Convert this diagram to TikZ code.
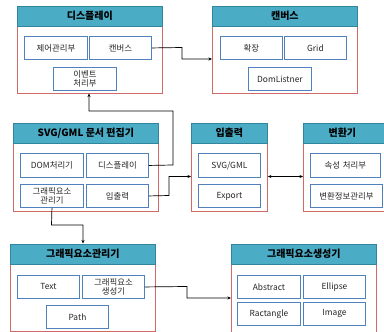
\documentclass[tikz,border=0pt]{standalone}
\usepackage{fontspec}
\setmainfont{Noto Sans CJK KR}
\usetikzlibrary{arrows.meta}
\definecolor{titlefill}{HTML}{4BACC6}
\definecolor{titledraw}{HTML}{31859C}
\definecolor{panelred}{HTML}{D06A68}
\definecolor{boxblue}{HTML}{4F81BD}
\definecolor{txt}{HTML}{262626}
\begin{document}
\begin{tikzpicture}[x=1pt,y=-1pt,
  panel/.style={draw=panelred,line width=0.9pt,fill=white,anchor=north west,inner sep=0pt},
  ttl/.style={draw=titledraw,line width=0.7pt,fill=titlefill,anchor=north west,inner sep=0pt,font=\fontsize{10}{11}\selectfont\bfseries},
  bx/.style={draw=boxblue,line width=0.9pt,fill=white,anchor=north west,inner sep=0pt,align=center,text=txt,font=\fontsize{8.4}{9.6}\selectfont},
  conn/.style={line width=0.7pt,black},
  arr/.style={conn,-{Stealth[length=3.5pt,width=3pt]}}
]
\useasboundingbox (0,0) rectangle (384,332);
\newcommand{\mkpanel}[6]{%
  \node[panel,minimum width=#4-#2,minimum height=#5-#3] (#1) at (#2,#3) {};
  \node[ttl,minimum width=#4-#2,minimum height=19.5] (#1t) at (#2,#3) {#6};}
\newcommand{\mkbox}[6]{%
  \node[bx,minimum width=#4-#2,minimum height=#5-#3,text width=#4-#2] (#1) at (#2,#3) {#6};}

% Panel 1 : display
\mkpanel{p1}{17}{6}{162}{93}{디스플레이}
\mkbox{ctrl}{24}{36}{87}{59}{제어관리부}
\mkbox{canv}{89}{36}{151}{59}{캔버스}
\mkbox{evt}{53}{67}{116}{90}{이벤트\\처리부}

% Panel 2 : canvas
\mkpanel{p2}{212}{6}{357}{93}{캔버스}
\mkbox{ext}{220}{36}{282}{59}{확장}
\mkbox{grid}{284}{36}{346}{59}{Grid}
\mkbox{dom}{248}{67}{311}{90}{DomListner}

% Panel 3 : editor
\mkpanel{p3}{13}{123}{158}{211}{SVG/GML 문서 편집기}
\mkbox{domp}{20}{153}{83}{177}{DOM처리기}
\mkbox{disp}{86}{153}{148}{177}{디스플레이}
\mkbox{gman}{20}{184}{83}{207}{그래픽요소\\관리기}
\mkbox{io}{86}{184}{148}{207}{입출력}

% Panel 4 : io
\mkpanel{p4}{191}{123}{267}{211}{입출력}
\mkbox{svg}{198}{153}{260}{177}{SVG/GML}
\mkbox{exp}{198}{184}{260}{207}{Export}

% Panel 5 : converter
\mkpanel{p5}{303}{123}{392}{211}{\hspace*{-11pt}변환기}
\mkbox{attr}{310}{153}{380}{177}{속성 처리부}
\mkbox{conv}{310}{184}{382}{207}{변환정보관리부}

% Panel 6 : graphic element manager
\mkpanel{p6}{10}{244}{155}{331}{그래픽요소관리기}
\mkbox{text}{17}{275}{79}{298}{Text}
\mkbox{gen}{82}{275}{144}{298}{그래픽요소\\생성기}
\mkbox{path}{46}{305}{108}{328}{Path}

% Panel 7 : graphic element generator
\mkpanel{p7}{231}{244}{376}{333}{그래픽요소생성기}
\mkbox{abs}{237}{275}{300}{298}{Abstract}
\mkbox{ell}{303}{275}{365}{298}{Ellipse}
\mkbox{rect}{237}{302}{300}{325}{Ractangle}
\mkbox{img}{303}{302}{365}{325}{Image}

% connectors
\draw[arr] (canv.east) -- (182,47.5) -- (182,59) -- (p2.west |- 0,59);
\draw[arr] (disp.east) -- (173,165) -- (173,111) -- (89,111) -- (89,93.5);
\draw[arr] (io.east) -- (169,195.5) -- (169,176.5) -- (p4.west |- 0,176.5);
\draw[conn,{Stealth[length=3.5pt,width=3pt]}-{Stealth[length=3.5pt,width=3pt]}] (p4.east |- 0,176.5) -- (p5.west |- 0,176.5);
\draw[arr] (gman.south) -- (51.5,225) -- (83,225) -- (83,243.5);
\draw[arr] (gen.east) -- (187,286.5) -- (187,298) -- (p7.west |- 0,298);
\end{tikzpicture}
\end{document}
